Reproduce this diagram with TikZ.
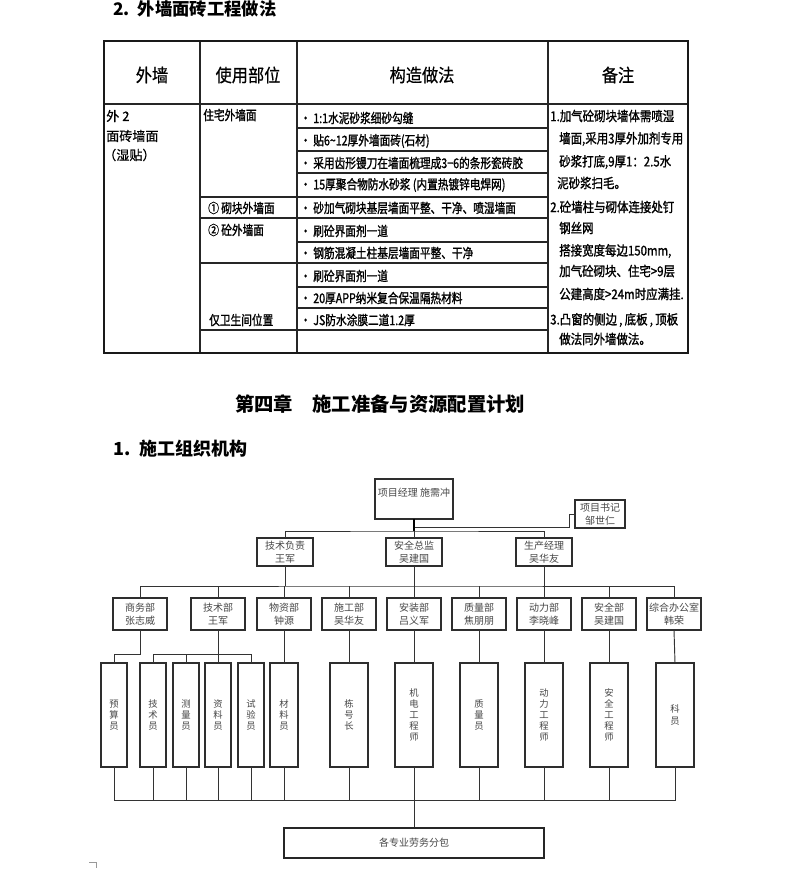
\documentclass[tikz,border=0pt]{standalone}
\usepackage{fontspec}
\setmainfont{Liberation Serif}
\newfontfamily\cjk{Noto Sans CJK SC}
\newfontfamily\cjkn[FakeStretch=0.8,FakeBold=1.3]{Noto Sans CJK SC}
\newfontfamily\cjkr[FakeStretch=0.85,FakeBold=1.3]{Noto Sans CJK SC}
\newfontfamily\cjkh[FakeStretch=0.9,FakeBold=0.6]{Noto Sans CJK SC}
\newfontfamily\cjkl[FakeBold=0.6]{Noto Sans CJK SC}
\begin{document}
\begin{tikzpicture}[x=0.75pt,y=-0.75pt,
  touter/.style={draw=black!90,line width=1.9pt},
  tcol/.style={draw=black!85,line width=1.1pt},
  trow/.style={draw=black!85,line width=0.8pt},
  thead/.style={inner sep=0pt,font=\cjkh\fontsize{13.5}{15}\selectfont},
  tbody/.style={inner sep=0pt,anchor=west,font=\cjkn\fontsize{10}{11}\selectfont},
  tnote/.style={inner sep=0pt,anchor=west,font=\cjkr\fontsize{10.1}{12}\selectfont},
  tleft/.style={inner sep=0pt,anchor=west,font=\cjkl\fontsize{9.8}{11}\selectfont},
  title/.style={inner sep=0pt,font=\cjk\bfseries\fontsize{13}{15}\selectfont},
  obox/.style={draw=black!82,line width=1.8pt,fill=white,inner sep=1pt,outer sep=0pt,align=center,
    font=\cjk\fontsize{7.5}{9.6}\selectfont,text=black!72},
  wbox/.style={obox,font=\cjk\fontsize{7}{8.4}\selectfont},
  otxt/.style={inner sep=0pt,font=\cjk\fontsize{7.5}{9.6}\selectfont,text=black!72},
  conn/.style={draw=black!80,line width=0.7pt}]
\useasboundingbox (0,0) rectangle (794,872);
\fill[white] (0,0) rectangle (794,872);

% ---------- section title ----------
\node[title,anchor=west] (sec2) at (113,9) {2.\hspace{6pt}外墙面砖工程做法};

% ---------- table ----------
\draw[trow] (104,104) -- (688,104);
\foreach \y in {128,151,173,197,218,242,263,287,308,330}
  \draw[trow] (297,\y) -- (548,\y);
\foreach \y in {197,218,263,330}
  \draw[trow] (200,\y) -- (297,\y);
\draw[tcol] (200,41) -- (200,353);
\draw[tcol] (297,41) -- (297,353);
\draw[tcol,line width=1.5pt] (548,41) -- (548,353);
\draw[touter] (104,41) rectangle (688,353);

\node[thead] (h1) at (152,75) {外墙};
\node[thead] (h2) at (248,75) {使用部位};
\node[thead] (h3) at (422,75) {构造做法};
\node[thead] (h4) at (618,75) {备注};

\node[tleft] (a1) at (106,116) {外 2};
\node[tleft] (a2) at (106,136) {面砖墙面};
\node[tleft] (a3) at (103,155) {（湿贴）};

\node[tbody] (u1) at (203,115) {住宅外墙面};
\node[tbody] (u2) at (208,208) {① 砌块外墙面};
\node[tbody] (u3) at (208,230) {② 砼外墙面};
\node[tbody] (u4) at (209,320) {仅卫生间位置};

\node[tbody] (c1) at (300,118) {• 1:1水泥砂浆细砂勾缝};
\node[tbody] (c2) at (300,141) {• 贴6\~{}12厚外墙面砖(石材)};
\node[tbody] (c3) at (300,163) {• 采用齿形镘刀在墙面梳理成3−6的条形瓷砖胶};
\node[tbody] (c4) at (300,185) {• 15厚聚合物防水砂浆 (内置热镀锌电焊网)};
\node[tbody] (c5) at (300,208) {• 砂加气砌块基层墙面平整、干净、喷湿墙面};
\node[tbody] (c6) at (300,231) {• 刷砼界面剂一道};
\node[tbody] (c7) at (300,253) {• 钢筋混凝土柱基层墙面平整、干净};
\node[tbody] (c8) at (300,276) {• 刷砼界面剂一道};
\node[tbody] (c9) at (300,298) {• 20厚APP纳米复合保温隔热材料};
\node[tbody] (c10) at (300,320) {• JS防水涂膜二道1.2厚};

\node[tnote] (n1) at (550,116) {1.加气砼砌块墙体需喷湿};
\node[tnote] (n2) at (559,139) {墙面,采用3厚外加剂专用};
\node[tnote] (n3) at (559,162) {砂浆打底,9厚1：2.5水};
\node[tnote] (n4) at (557,183) {泥砂浆扫毛。};
\node[tnote] (n5) at (550,207) {2.砼墙柱与砌体连接处钉};
\node[tnote] (n6) at (559,228) {钢丝网};
\node[tnote] (n7) at (559,251) {搭接宽度每边150mm,};
\node[tnote] (n8) at (559,271) {加气砼砌块、住宅>9层};
\node[tnote] (n9) at (559,294) {公建高度>24m时应满挂.};
\node[tnote] (n10) at (550,320) {3.凸窗的侧边\,,\,底板\,,\,顶板};
\node[tnote] (n11) at (559,339) {做法同外墙做法。};

% ---------- chapter titles ----------
\node[title,font=\cjk\bfseries\fontsize{14.5}{16}\selectfont] (ch4) at (380,404) {第四章　施工准备与资源配置计划};
\node[title,anchor=west,font=\cjk\bfseries\fontsize{13.5}{16}\selectfont] (s1) at (113,449) {1.\hspace{7pt}施工组织机构};

% ---------- org chart ----------
\node[obox,minimum width=78*0.75pt,minimum height=40*0.75pt] (pm) at (414,499) {};
\node[otxt] (pmt) at (414,493) {项目经理\ 施需冲};
\node[obox,minimum width=50*0.75pt,minimum height=28*0.75pt] (sec) at (600,514) {项目书记\\邹世仁};

\node[obox,minimum width=56*0.75pt,minimum height=28*0.75pt] (tech) at (285,552) {技术负责\\王军};
\node[obox,minimum width=56*0.75pt,minimum height=28*0.75pt] (safe) at (414,552) {安全总监\\吴建国};
\node[obox,minimum width=56*0.75pt,minimum height=28*0.75pt] (prod) at (544,552) {生产经理\\吴华友};

\foreach \n/\x/\t in {d1/140/{商务部\\张志威},d2/218/{技术部\\王军},d3/284/{物资部\\钟源},
  d4/349/{施工部\\吴华友},d5/414/{安装部\\吕义军},d6/479/{质量部\\焦朋朋},
  d7/544/{动力部\\李晓峰},d8/609/{安全部\\吴建国},d9/674/{综合办公室\\韩荣}}
  \node[obox,minimum width=54*0.75pt,minimum height=32*0.75pt] (\n) at (\x,614) {\t};

\foreach \n/\x/\w/\t in {w1/114/26/{预\\算\\员},w2/153/26/{技\\术\\员},w3/186/26/{测\\量\\员},
  w4/218/26/{资\\料\\员},w5/251/26/{试\\验\\员},w6/284/28/{材\\料\\员},
  w7/349/38/{栋\\号\\长},w8/414/38/{机\\电\\工\\程\\师},w9/479/38/{质\\量\\员},
  w10/544/38/{动\\力\\工\\程\\师},w11/609/38/{安\\全\\工\\程\\师},w12/675/38/{科\\员}}
  \node[wbox,minimum width=\w*0.75pt,minimum height=104*0.75pt] (\n) at (\x,715) {\t};

\node[draw=black!85,line width=0.8pt,inner sep=0pt,minimum width=260*0.75pt,minimum height=30*0.75pt,
  font=\cjk\fontsize{7.5}{9}\selectfont,text=black!72] (sub) at (414,843) {各专业劳务分包};

% connectors level 1-2
\coordinate (b1) at (414,531);
\coordinate (secj) at (414,527);
\draw[conn] (sec.west) -- ++(-6,0) |- (secj);
\draw[conn] (tech.north) |- (b1) -| (prod.north);
\draw[conn] (b1) -- (safe.north);
\draw[conn,line width=1.5pt,draw=black] (pm.south) -- (b1);

% level 2-3
\coordinate (b2) at (414,586);
\draw[conn] (d1.north) |- (b2) -| (d9.north);
\foreach \n in {d2,d3,d4,d5,d6,d7,d8}
  \draw[conn] (\n.north) -- (\n.north |- b2);
\foreach \n in {tech,safe,prod}
  \draw[conn] (\n.south) -- (\n.south |- b2);

% level 3-4
\coordinate (t1) at (114,654);
\coordinate (t2) at (218,654);
\draw[conn] (d1.south) |- (t1) -- (w1.north);
\draw[conn] (d2.south) -- (t2);
\draw[conn] (w2.north) |- (w5.north |- t2) -- (w5.north);
\draw[conn] (w3.north) -- (w3.north |- t2);
\draw[conn] (w4.north) -- (w4.north |- t2);
\draw[conn] (d3.south) -- (w6.north);
\draw[conn] (d4.south) -- (w7.north);
\draw[conn] (d5.south) -- (w8.north);
\draw[conn] (d6.south) -- (w9.north);
\draw[conn] (d7.south) -- (w10.north);
\draw[conn] (d8.south) -- (w11.north);
\draw[conn] (d9.south) -- (w12.north);

% bottom bar
\coordinate (b3) at (414,800);
\draw[conn] (w1.south) |- (b3) -| (w12.south);
\foreach \n in {w2,w3,w4,w5,w6,w7,w9,w10,w11}
  \draw[conn] (\n.south) -- (\n.south |- b3);
\draw[conn] (w8.south) -- (sub.north);

% small corner mark
\draw[black!40,line width=0.5pt] (89,862) -- (96,862) -- (96,868);
\end{tikzpicture}
\end{document}
